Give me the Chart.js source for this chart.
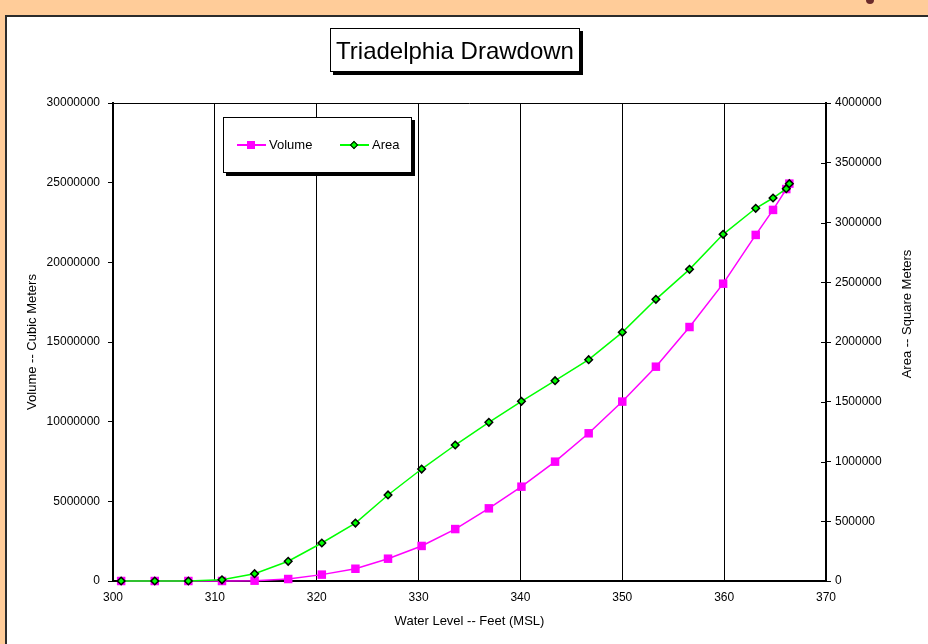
<!DOCTYPE html>
<html>
<head>
<meta charset="utf-8">
<title>Triadelphia Drawdown</title>
<script src="https://cdn.jsdelivr.net/npm/chart.js@4/dist/chart.umd.min.js"></script>
<style>
  html, body { margin: 0; padding: 0; width: 928px; height: 644px; overflow: hidden; background: #ffcc99; font-family: "Liberation Sans", Arial, sans-serif; }
  #panel { position: absolute; left: 5px; top: 15px; width: 960px; height: 680px; background: #fff; border: 2px solid #2b2b2b; box-sizing: border-box; }
  #mark { position: absolute; left: 866px; top: -4px; width: 8px; height: 8px; border-radius: 50%; background: #6b2a2a; }
  #wrap { position: absolute; left: 0; top: 0; width: 928px; height: 644px; }
  #title { position: absolute; left: 330px; top: 28px; width: 250px; height: 44px; box-sizing: border-box; border: 1px solid #000; background: #fff; box-shadow: 3px 3px 0 #000; font-size: 24px; line-height: 44px; text-align: center; color: #000; }
  #legend { position: absolute; left: 223px; top: 117px; width: 189px; height: 56px; box-sizing: border-box; border: 1px solid #000; background: #fff; box-shadow: 3px 3px 0 #000; font-size: 13px; color: #000; }
  .item { position: absolute; top: 19px; height: 16px; }
  .item .ln { position: absolute; top: 7px; left: 0; width: 29px; height: 1.5px; }
  .item .lbl { position: absolute; left: 32px; top: 0; line-height: 16px; white-space: nowrap; }
  .sq { position: absolute; left: 10px; top: 4px; width: 8px; height: 8px; background: #ff00ff; }
  .dm { position: absolute; left: 11px; top: 5px; width: 4px; height: 4px; background: #00ff00; border: 1.5px solid #000; transform: rotate(45deg); }
</style>
</head>
<body>
<div id="panel"></div>
<div id="mark"></div>
<div id="wrap"><canvas id="chart" width="928" height="644"></canvas></div>
<div id="title">Triadelphia Drawdown</div>
<div id="legend">
  <div class="item" style="left:13px"><div class="ln" style="background:#ff00ff"></div><div class="sq"></div><span class="lbl">Volume</span></div>
  <div class="item" style="left:116px"><div class="ln" style="background:#00ff00"></div><div class="dm"></div><span class="lbl">Area</span></div>
</div>
<script>
// water level in feet (MSL)
const LEVELS = [300.8, 304.1, 307.4, 310.7, 313.9, 317.2, 320.5, 323.8, 327.0, 330.3,
  333.6, 336.9, 340.1, 343.4, 346.7, 350.0, 353.3, 356.6, 359.9, 363.1, 364.8, 366.1, 366.4];

// cubic meters
const VOLUME = [0, 0, 0, 0, 20000, 125000, 400000, 770000, 1400000, 2200000,
  3260000, 4560000, 5920000, 7490000, 9270000, 11260000, 13450000, 15940000, 18660000, 21720000,
  23290000, 24600000, 24940000];

// square meters
const AREA = [0, 0, 0, 10000, 61000, 165000, 318000, 485000, 720000, 937000,
  1138000, 1328000, 1504000, 1676000, 1852000, 2081000, 2357000, 2608000, 2901000, 3119000,
  3205000, 3283000, 3325000];

const X_TICKS = [300, 310, 320, 330, 340, 350, 360, 370];
const VOL_TICKS = [0, 5000000, 10000000, 15000000, 20000000, 25000000, 30000000];
const AREA_TICKS = [0, 500000, 1000000, 1500000, 2000000, 2500000, 3000000, 3500000, 4000000];

const FONT = 'Liberation Sans';
const tickFont = { family: FONT, size: 12 };

const toPoints = (ys) => LEVELS.map((x, i) => ({ x, y: ys[i] }));
const setTicks = (list) => (s) => { s.ticks = list.map(v => ({ value: v })); };

// frame top line, inward ticks on the right axis, right axis title
const extras = {
  id: 'extras',
  afterDraw(chart) {
    const { ctx, chartArea: a } = chart;
    const y1 = chart.scales.y1;
    ctx.save();
    ctx.strokeStyle = '#000';
    ctx.lineWidth = 1;
    ctx.beginPath();
    ctx.moveTo(a.left, a.top + 0.5);
    ctx.lineTo(a.right, a.top + 0.5);
    AREA_TICKS.forEach(v => {
      const py = Math.round(y1.getPixelForValue(v)) + 0.5;
      ctx.moveTo(a.right - 5, py);
      ctx.lineTo(a.right, py);
    });
    ctx.stroke();

    ctx.translate(907, 314);
    ctx.rotate(-Math.PI / 2);
    ctx.fillStyle = '#000';
    ctx.font = `13px "${FONT}"`;
    ctx.textAlign = 'center';
    ctx.textBaseline = 'middle';
    ctx.fillText('Area -- Square Meters', 0, 0);
    ctx.restore();
  }
};

new Chart(document.getElementById('chart'), {
  type: 'line',
  data: {
    datasets: [
      {
        label: 'Volume', data: toPoints(VOLUME), yAxisID: 'y', order: 2,
        borderColor: '#ff00ff', borderWidth: 1.5, tension: 0,
        pointStyle: 'rect', pointRadius: 6, pointBackgroundColor: '#ff00ff', pointBorderColor: '#ff00ff', pointBorderWidth: 0,
      },
      {
        label: 'Area', data: toPoints(AREA), yAxisID: 'y1', order: 1,
        borderColor: '#00ff00', borderWidth: 1.5, tension: 0,
        pointStyle: 'rectRot', pointRadius: 3.8, pointBackgroundColor: '#00ff00', pointBorderColor: '#000', pointBorderWidth: 1.5,
      },
    ],
  },
  options: {
    responsive: false,
    animation: false,
    clip: false,
    layout: { padding: { left: 0, right: 0, top: 103, bottom: 13 } },
    plugins: { legend: { display: false }, title: { display: false }, tooltip: { enabled: false } },
    scales: {
      x: {
        type: 'linear', position: 'bottom', min: 300, max: 370,
        afterBuildTicks: setTicks(X_TICKS),
        afterFit: (s) => { s.height = 50; },
        ticks: { font: tickFont, color: '#000', padding: 9, callback: (v) => String(v) },
        grid: { color: '#000', lineWidth: 1, drawTicks: false },
        border: { color: '#000', width: 2 },
        title: { display: true, text: 'Water Level -- Feet (MSL)', color: '#000', font: { family: FONT, size: 13 }, padding: { top: 0, bottom: 2 } },
      },
      y: {
        position: 'left', min: 0, max: 30000000,
        afterBuildTicks: setTicks(VOL_TICKS),
        afterFit: (s) => { s.width = 113; },
        ticks: { font: tickFont, color: '#000', padding: 8, callback: (v) => String(v) },
        grid: { drawOnChartArea: false, tickLength: 5, color: '#000' },
        border: { color: '#000', width: 2 },
        title: { display: true, text: 'Volume -- Cubic Meters', color: '#000', font: { family: FONT, size: 13 }, padding: { top: 25, bottom: 0 } },
      },
      y1: {
        position: 'right', min: 0, max: 4000000,
        afterBuildTicks: setTicks(AREA_TICKS),
        afterFit: (s) => { s.width = 102; },
        ticks: { font: tickFont, color: '#000', padding: 4, callback: (v) => String(v) },
        grid: { drawOnChartArea: false, tickLength: 5, color: '#000' },
        border: { color: '#000', width: 2 },
      },
    },
  },
  plugins: [extras],
});
</script>
</body>
</html>
